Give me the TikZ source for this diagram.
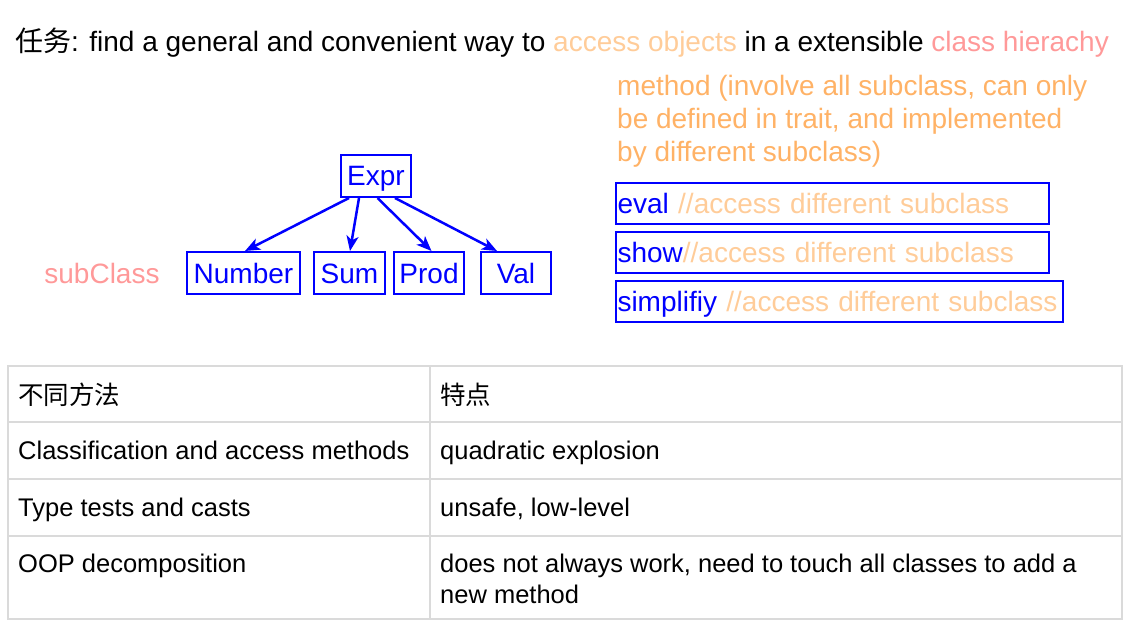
\documentclass[tikz,border=0pt]{standalone}
\usepackage{fontspec}
\setmainfont{Liberation Sans}
\newfontfamily\cjk{Noto Sans CJK SC}
\usetikzlibrary{arrows.meta}
\definecolor{peach}{RGB}{255,204,153}
\definecolor{apricot}{RGB}{255,178,102}
\definecolor{rose}{RGB}{255,153,153}
\definecolor{rulegray}{RGB}{218,218,218}
\tikzset{
  big/.style={font=\fontsize{28}{33}\selectfont},
  cls/.style={big, draw=blue, text=blue, line width=2pt, minimum height=42pt,
    inner xsep=5pt, inner ysep=0pt, text height=21pt, text depth=1pt},
  meth/.style={big, draw=blue, line width=2pt, anchor=west, minimum height=41pt,
    inner xsep=1.5pt, inner ysep=0pt, text height=21pt, text depth=1pt, align=left, text=peach},
  inherit/.style={draw=blue, line width=2.5pt, -{Stealth[length=15pt,width=12pt,inset=4pt]}},
  cell/.style={font=\fontsize{25.5}{31}\selectfont, anchor=base west, inner sep=0pt, align=left},
  tablerule/.style={draw=rulegray, line width=2pt}
}
\begin{document}
\begin{tikzpicture}[x=1pt,y=-1pt]
\useasboundingbox (0,0) rectangle (1134,636);

\node[big, anchor=base west, inner sep=0pt] (task) at (15,52) {{\cjk 任务}: find a general and convenient way to \textcolor{peach}{access objects} in a extensible \textcolor{rose}{class hierachy}};
\node[big, anchor=base west, inner sep=0pt, align=left, text=apricot] (method) at (617,162) {method (involve all subclass, can only\\be defined in trait, and implemented\\by different subclass)};

\node[cls, minimum width=70pt] (expr) at (376,176) {Expr};
\node[cls, minimum width=113pt] (number) at (243.5,273) {Number};
\node[cls, minimum width=71pt] (sum) at (349.5,273) {Sum};
\node[cls, minimum width=62pt] (prod) at (429,273) {Prod};
\node[cls, minimum width=70pt] (val) at (516,273) {Val};
\node[big, text=rose, inner sep=0pt] (sub) at (102,273) {subClass};

\draw[inherit] ([xshift=-27pt]expr.south) -- ([xshift=1.5pt]number.north);
\draw[inherit] ([xshift=-17pt]expr.south) -- ([xshift=0.5pt]sum.north);
\draw[inherit] ([xshift=1.5pt]expr.south) -- ([xshift=2.5pt]prod.north);
\draw[inherit] ([xshift=19pt]expr.south) -- ([xshift=-19pt]val.north);

\node[meth, text width=430pt] (eval) at (615,203.5) {\textcolor{blue}{eval} //access different subclass};
\node[meth, text width=430pt] (show) at (615,252.5) {\textcolor{blue}{show}//access different subclass};
\node[meth, text width=444pt] (simp) at (615,301.5) {\textcolor{blue}{simplifiy} //access different subclass};

\draw[tablerule] (8,366) rectangle (1122,619);
\foreach \y in {422,479,536}
  \draw[tablerule] (8,\y) -- (1122,\y);
\draw[tablerule] (430,366) -- (430,619);

\node[cell] (h1) at (18,404) {\cjk 不同方法};
\node[cell] (h2) at (440,404) {\cjk 特点};
\node[cell] (r1a) at (18,459) {Classification and access methods};
\node[cell] (r1b) at (440,459) {quadratic explosion};
\node[cell] (r2a) at (18,516) {Type tests and casts};
\node[cell] (r2b) at (440,516) {unsafe, low-level};
\node[cell] (r3a) at (18,572) {OOP decomposition};
\node[cell] (r3b) at (440,603) {does not always work, need to touch all classes to add a\\new method};
\end{tikzpicture}
\end{document}
